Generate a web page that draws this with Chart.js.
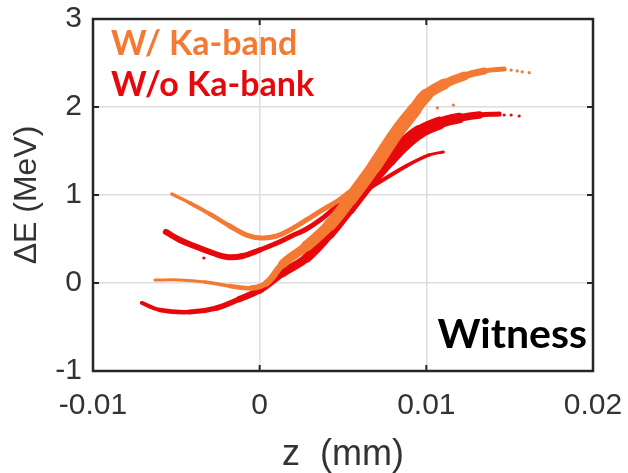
<!DOCTYPE html>
<html>
<head>
<meta charset="utf-8">
<script src="https://cdn.jsdelivr.net/npm/chart.js@4"></script>
<style>
  body { margin: 0; background: #fff; }
  #wrap { width: 628px; height: 473px; position: relative; }
</style>
</head>
<body>
<div id="wrap"><canvas id="phaseChart"></canvas></div>
<script>
// Axis ticks
const zTicks = [-0.01, 0, 0.01, 0.02];
const eTicks = [-1, 0, 1, 2, 3];

// W/ Ka-band, upper branch (z in mm, dE in MeV)
const orangeUpperZ = [-0.00527, -0.00419, -0.00299, -0.00180, -0.00078, 0.00012, 0.00102, 0.00192, 0.00281, 0.00377, 0.00467, 0.00539];
const orangeUpperE = [1.011, 0.909, 0.784, 0.648, 0.545, 0.511, 0.534, 0.614, 0.716, 0.830, 0.932, 1.034];

// W/ Ka-band, main branch
const orangeMainZ = [-0.00629, -0.00479, -0.00329, -0.00180, -0.00048, 0.00042, 0.00138, 0.00281, 0.00419, 0.00539, 0.00689, 0.00820, 0.00928, 0.01000, 0.01108, 0.01228, 0.01347, 0.01467];
const orangeMainE = [0.034, 0.034, 0.011, -0.034, -0.057, 0.000, 0.216, 0.420, 0.659, 0.943, 1.330, 1.705, 1.966, 2.136, 2.261, 2.352, 2.409, 2.432];

// W/ Ka-band, loose particles
const orangeDotsZ = [0.01509, 0.01545, 0.01575, 0.01617, 0.01066, 0.01162];
const orangeDotsE = [2.42, 2.41, 2.40, 2.39, 1.989, 2.023];

// W/o Ka-band, lower branch
const redLowerZ = [-0.00707, -0.00599, -0.00419, -0.00257, -0.00120, 0.00000, 0.00138, 0.00281, 0.00419, 0.00539, 0.00659, 0.00778, 0.00868, 0.00958, 0.01078, 0.01198, 0.01317, 0.01437];
const redLowerE = [-0.227, -0.307, -0.330, -0.284, -0.182, -0.080, 0.114, 0.284, 0.557, 0.841, 1.136, 1.398, 1.580, 1.716, 1.818, 1.875, 1.909, 1.920];

// W/o Ka-band, upper branch
const redUpperZ = [-0.00563, -0.00479, -0.00377, -0.00281, -0.00198, -0.00102, 0.00000, 0.00090, 0.00192, 0.00281, 0.00371, 0.00461, 0.00599, 0.00749, 0.00880, 0.01018, 0.01102];
const redUpperE = [0.580, 0.489, 0.409, 0.341, 0.295, 0.307, 0.375, 0.443, 0.534, 0.614, 0.727, 0.864, 1.011, 1.182, 1.330, 1.455, 1.489];

// W/o Ka-band, loose particles
const redDotsZ = [0.01467, 0.01509, 0.01557, -0.00335];
const redDotsE = [1.909, 1.909, 1.898, 0.284];

const ORANGE = '#f47a33';
const RED = '#e8080c';

function toPoints(zs, es) {
    return zs.map((z, i) => ({ x: z, y: es[i] }));
}

// band widths along each branch (px), averaged per segment
function band(widths) {
    return ctx => (widths[ctx.p0DataIndex] + widths[ctx.p1DataIndex]) / 2;
}

function branch(zs, es, color, widths, order) {
    return {
        data: toPoints(zs, es),
        showLine: true,
        borderColor: color,
        backgroundColor: color,
        pointRadius: 0,
        tension: 0.4,
        borderCapStyle: 'round',
        borderJoinStyle: 'round',
        borderWidth: widths[0],
        segment: { borderWidth: band(widths) },
        order: order
    };
}

function dots(zs, es, color, order) {
    return {
        data: toPoints(zs, es),
        showLine: false,
        pointRadius: 1.6,
        pointBorderWidth: 0,
        backgroundColor: color,
        borderColor: color,
        order: order
    };
}

// no label overhang: the layout padding alone places the plot box
function fixSize(prop, value) {
    return s => {
        s[prop] = value;
        s.paddingTop = 0;
        s.paddingBottom = 0;
        s.paddingLeft = 0;
        s.paddingRight = 0;
    };
}

// frame, inward ticks and text labels
const framePlugin = {
    id: 'frame',
    afterDraw(chart) {
        const { ctx, chartArea: a, scales: { x, y } } = chart;
        ctx.save();
        ctx.strokeStyle = '#262626';
        ctx.lineWidth = 2.5;
        ctx.strokeRect(a.left, a.top, a.right - a.left, a.bottom - a.top);
        ctx.lineWidth = 2;
        const tl = 6;
        zTicks.forEach(v => {
            const px = x.getPixelForValue(v);
            ctx.beginPath();
            ctx.moveTo(px, a.bottom); ctx.lineTo(px, a.bottom - tl);
            ctx.moveTo(px, a.top); ctx.lineTo(px, a.top + tl);
            ctx.stroke();
        });
        eTicks.forEach(v => {
            const py = y.getPixelForValue(v);
            ctx.beginPath();
            ctx.moveTo(a.left, py); ctx.lineTo(a.left + tl, py);
            ctx.moveTo(a.right, py); ctx.lineTo(a.right - tl, py);
            ctx.stroke();
        });

        ctx.textBaseline = 'alphabetic';
        ctx.font = 'bold 34px Lato';
        ctx.textAlign = 'left';
        ctx.fillStyle = ORANGE;
        ctx.fillText('W/ Ka-band', x.getPixelForValue(-0.00892), y.getPixelForValue(2.59));
        ctx.fillStyle = RED;
        ctx.fillText('W/o Ka-bank', x.getPixelForValue(-0.00892), y.getPixelForValue(2.125));
        ctx.font = 'bold 41px Lato';
        ctx.textAlign = 'right';
        ctx.fillStyle = '#000';
        ctx.fillText('Witness', x.getPixelForValue(0.01964), y.getPixelForValue(-0.739));
        ctx.restore();
    }
};

const tickFont = { family: 'Liberation Sans', size: 30 };

new Chart(document.getElementById('phaseChart'), {
    type: 'scatter',
    data: {
        datasets: [
            branch(orangeUpperZ, orangeUpperE, ORANGE, [3, 4, 4, 5, 5, 5, 5, 5, 5, 5, 5, 5], 1),
            branch(orangeMainZ, orangeMainE, ORANGE, [3, 3, 3, 4, 5, 6, 8, 10, 12, 13, 14, 14, 14, 12, 10, 8, 6, 4], 1),
            dots(orangeDotsZ, orangeDotsE, ORANGE, 1),
            branch(redLowerZ, redLowerE, RED, [4, 4, 5, 5, 6, 7, 8, 9, 10, 11, 12, 13, 14, 14, 12, 9, 6, 4], 2),
            branch(redUpperZ, redUpperE, RED, [6, 6, 6, 6, 6, 6, 5, 5, 5, 5, 5, 5, 4, 4, 4, 3, 3], 2),
            dots(redDotsZ, redDotsE, RED, 2)
        ]
    },
    options: {
        responsive: true,
        maintainAspectRatio: false,
        animation: false,
        layout: { padding: { top: 19, right: 35, left: 0, bottom: 0 } },
        plugins: {
            legend: { display: false },
            tooltip: { enabled: false }
        },
        scales: {
            x: {
                type: 'linear',
                min: -0.01,
                max: 0.02,
                afterFit: fixSize('height', 102),
                afterBuildTicks: s => { s.ticks = zTicks.map(v => ({ value: v })); },
                ticks: {
                    font: tickFont,
                    color: '#333',
                    padding: 17,
                    callback: v => String(+v.toFixed(2))
                },
                grid: { color: '#dedede', lineWidth: 1.5, drawTicks: false },
                border: { display: false },
                title: { display: true, text: 'z  (mm)', font: { family: 'Liberation Sans', size: 36, lineHeight: 1 }, color: '#333', padding: { top: 0, bottom: 0 } }
            },
            y: {
                min: -1,
                max: 3,
                afterFit: fixSize('width', 93),
                afterBuildTicks: s => { s.ticks = eTicks.map(v => ({ value: v })); },
                ticks: {
                    font: tickFont,
                    color: '#333',
                    padding: 11
                },
                grid: { color: '#dedede', lineWidth: 1.5, drawTicks: false },
                border: { display: false },
                title: { display: true, text: 'ΔE (MeV)', font: { family: 'Liberation Sans', size: 32, lineHeight: 1 }, color: '#333', padding: { top: 11, bottom: 0 } }
            }
        }
    },
    plugins: [framePlugin]
});
</script>
</body>
</html>
